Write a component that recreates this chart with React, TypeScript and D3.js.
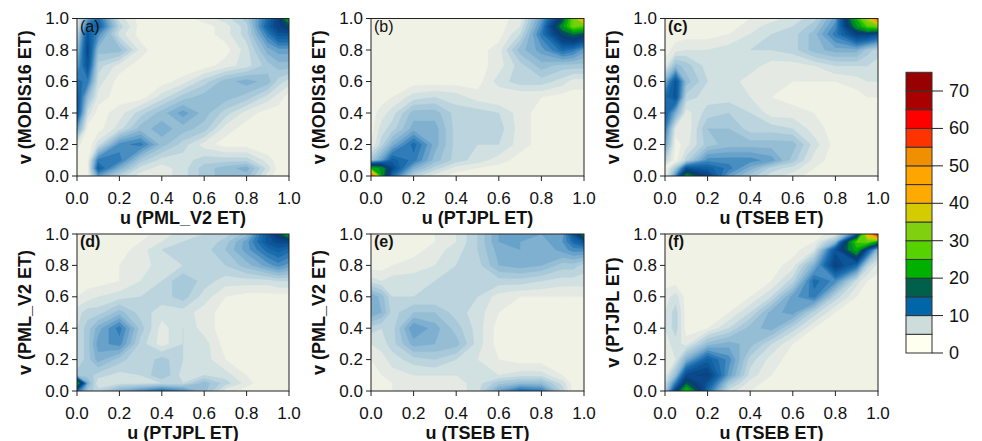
import React from "react";
import * as d3 from "d3";

// grid positions (u and v) at which the density values are given
const gridU = [0, 0.05, 0.1, 0.2, 0.3, 0.4, 0.5, 0.6, 0.7, 0.8, 0.9, 0.95, 1];

// rows listed from v = 1 (top) down to v = 0 (bottom); columns follow gridU
const densityA = [
  [3, 9, 12, 4, 2, 2, 2, 3, 4, 6, 12, 16, 24],
  [3, 12, 13, 5, 2, 2, 2, 2, 3, 5, 13, 16, 18],
  [5, 14, 10, 4, 2, 1.5, 1.5, 2, 3, 5, 11, 14, 14],
  [7, 15, 7, 7, 3, 1.5, 1.5, 1.5, 2, 4, 8, 9, 9],
  [9, 14, 5, 3, 2, 1.5, 1.5, 2, 3, 4, 6, 7, 7],
  [12, 11, 4, 2, 1.5, 2, 3, 5, 7, 8, 7, 5, 4],
  [14, 7, 3, 2, 2, 4, 6, 7, 7, 6, 4, 3, 2],
  [14, 4, 2, 3, 5, 7, 9, 7, 5, 3, 2, 2, 2],
  [9, 2, 2, 4, 7, 8, 7, 6, 3, 2, 1.5, 1.5, 1.5],
  [3, 1.5, 4, 10, 11, 7, 5, 3, 2, 2, 1.5, 1.5, 1.5],
  [1.5, 2, 11, 11, 6, 4, 4, 5, 5, 5, 3, 2, 1.5],
  [1.5, 2, 13, 8, 4, 3, 4, 6, 7, 8, 4, 2, 1.5],
  [1.5, 2, 9, 5, 3, 3, 4, 6, 7, 7, 3, 2, 1.5],
];

const densityB = [
  [1.5, 2, 1.5, 1.5, 1.5, 1.5, 2, 2, 3, 9, 18, 30, 45],
  [1.5, 2, 1.5, 1.5, 1.5, 1.5, 2, 2, 3.5, 10, 22, 30, 28],
  [1.5, 2.5, 1.5, 1.5, 1.5, 1.5, 2, 2, 4.5, 11, 18, 20, 18],
  [1.5, 2.5, 2, 1.5, 1.5, 2, 2, 3, 7, 9, 12, 11, 9],
  [1.5, 2.5, 2, 2, 2, 2, 2, 3, 5, 7, 6, 6, 6],
  [1.5, 2, 2, 2, 2, 2, 2, 4, 5, 5, 4, 3, 3],
  [1.5, 2, 2.5, 4, 4.5, 4, 3, 2.5, 2.5, 2.5, 2, 2, 2],
  [2, 3, 4, 7, 7, 5, 5, 4.5, 3, 2, 2, 2, 1.5],
  [2, 4, 5, 8, 8, 5, 5, 5, 3, 2, 1.5, 1.5, 1.5],
  [2.5, 5, 8, 12, 8, 5, 4.5, 4.5, 3, 2, 1.5, 1.5, 1.5],
  [6, 9, 13, 11, 7, 5, 4, 3, 2, 1.5, 1.5, 1.5, 1.5],
  [24, 22, 15, 8, 5, 3, 2.5, 2, 1.5, 1.5, 1.5, 1.5, 1.5],
  [60, 22, 12, 5, 3, 2, 2, 1.5, 1.5, 1.5, 1.5, 1.5, 1.5],
];

const densityC = [
  [1.5, 1.5, 1.5, 1.5, 2, 2.5, 3, 4, 5, 9, 25, 35, 55],
  [1.5, 1.5, 1.5, 1.5, 2, 3, 4, 4.5, 6, 10, 22, 28, 30],
  [1.5, 2, 2, 2, 2.5, 3.5, 4.5, 5, 7, 11, 16, 16, 14],
  [2, 3, 3.5, 3.5, 4, 4.5, 4.5, 5, 7, 8, 8, 6, 5],
  [3, 7, 6, 4, 4.5, 4, 3, 3, 3.5, 4.5, 4.5, 4.5, 4],
  [8, 14, 7, 4.5, 4, 3, 2.5, 2.5, 2.5, 2.5, 3, 3.5, 3.5],
  [12, 14, 5, 4, 4, 3.5, 2.5, 2, 2, 2, 2, 2.5, 2.5],
  [13, 8, 3, 5, 5.5, 4.5, 3, 3, 2.5, 2, 2, 2, 2],
  [11, 3, 2.5, 6.5, 6.5, 5, 5, 4.5, 3, 2, 1.5, 1.5, 1.5],
  [9, 2, 3, 6, 7, 7, 7, 7, 4, 2, 1.5, 1.5, 1.5],
  [5, 2, 5, 10, 10, 10, 9, 6, 3, 2, 1.5, 1.5, 1.5],
  [2, 6, 14, 13, 11, 8, 5, 4, 2.5, 1.5, 1.5, 1.5, 1.5],
  [1.5, 10, 22, 16, 9, 6, 4, 3, 2, 1.5, 1.5, 1.5, 1.5],
];

const densityD = [
  [1.5, 1.5, 1.5, 1.5, 2, 3, 4, 4.5, 5, 7, 14, 18, 24],
  [1.5, 1.5, 1.5, 2, 2.5, 3.5, 4.5, 4.5, 6, 9, 14, 15, 15],
  [1.5, 1.5, 1.5, 2, 3, 4.5, 5, 5, 6.5, 9, 12, 13, 12],
  [1.5, 1.5, 2, 2.5, 3, 4, 4.5, 4.5, 5.5, 7, 9, 10, 9],
  [2, 2, 2, 2.5, 3.5, 4.5, 6.5, 5, 4, 4, 4, 4.5, 4.5],
  [2.5, 3, 3.5, 4, 4.5, 5, 6, 4, 2.5, 2, 2, 2, 2],
  [4, 5, 5, 7, 5, 4, 4, 3, 2, 1.5, 1.5, 1.5, 1.5],
  [4.5, 6, 8, 11, 6, 3, 4.5, 3, 2, 1.5, 1.5, 1.5, 1.5],
  [4.5, 6, 9, 10, 5, 3, 4.5, 4, 2, 1.5, 1.5, 1.5, 1.5],
  [4.5, 6, 8, 6, 4.5, 6, 4.5, 4, 2.5, 1.5, 1.5, 1.5, 1.5],
  [6, 6, 5, 4, 4.5, 6.5, 4, 4.5, 4, 2.5, 1.5, 1.5, 1.5],
  [24, 8, 3.5, 4, 4, 4.5, 4.5, 7, 5, 3, 1.5, 1.5, 1.5],
  [12, 6, 5, 8, 10, 12, 10, 7, 3, 2, 1.5, 1.5, 1.5],
];

const densityE = [
  [1.5, 1.5, 1.5, 2, 2.5, 3.5, 5.5, 8.5, 8.5, 8.5, 9, 14, 22],
  [1.5, 1.5, 1.5, 2, 2.5, 3.5, 5.5, 8.5, 8.5, 8, 9.5, 12, 14],
  [1.5, 1.5, 2, 2, 3, 4, 5.5, 8, 8.5, 7.5, 9, 10, 10],
  [2, 2, 2.5, 3, 3.5, 4.5, 5, 7.5, 8, 7.5, 6, 6, 5],
  [4, 3.5, 4, 4, 4.5, 4.5, 5, 5, 5, 4.5, 4, 4, 4],
  [8.5, 7, 4.5, 4.5, 4.5, 4.5, 4.5, 3, 2.5, 2.5, 2.5, 2.5, 2.5],
  [8.5, 7.5, 5, 6.5, 6.5, 5, 4, 2.5, 2, 2, 2, 2, 2],
  [5, 4.5, 5, 9.5, 8, 6, 4, 2, 2, 2, 2, 2, 2],
  [3.5, 4, 5, 8, 7.5, 7, 4, 2, 2, 2, 2, 2, 2],
  [2.5, 3, 4, 5, 5.5, 4.5, 3.5, 2.5, 2, 2, 2, 2, 2],
  [2, 2.5, 3, 3.5, 3.5, 3.5, 3.5, 3.5, 4, 4, 2.5, 2, 2],
  [2, 2, 2.5, 3, 3, 3, 4, 6, 7, 7, 4, 2, 2],
  [2, 2, 2.5, 3, 3, 3, 4, 9, 12, 11, 5, 2, 2],
];

const densityF = [
  [1.5, 1.5, 1.5, 1.5, 1.5, 1.5, 1.5, 1.5, 2, 3, 12, 40, 65],
  [1.5, 1.5, 1.5, 1.5, 1.5, 1.5, 1.5, 2, 2.5, 7, 28, 30, 22],
  [1.5, 1.5, 1.5, 1.5, 1.5, 1.5, 2, 2, 3.5, 14, 24, 14, 7],
  [1.5, 1.5, 1.5, 1.5, 1.5, 1.5, 2, 3, 8, 16, 12, 5, 3],
  [2, 2, 1.5, 1.5, 1.5, 2, 2.5, 5, 12, 10, 4, 2.5, 2],
  [3, 4, 2, 2, 2, 2.5, 4.5, 9, 11, 5, 2.5, 2, 2],
  [3.5, 5, 2, 2, 2.5, 4.5, 8, 9, 5, 2.5, 2, 2, 2],
  [3.5, 5, 2, 2.5, 4.5, 7, 8, 5, 2.5, 2, 2, 2, 2],
  [3, 4, 3, 7, 8, 7, 4.5, 2.5, 2, 2, 2, 2, 2],
  [3, 3.5, 8, 13, 10, 5, 3, 2, 2, 2, 2, 2, 2],
  [3, 7, 15, 16, 9, 4, 2.5, 2, 2, 2, 2, 2, 2],
  [4, 11, 19, 14, 6, 3, 2, 2, 2, 2, 2, 2, 2],
  [5, 16, 26, 12, 4, 2.5, 2, 2, 2, 2, 2, 2, 2],
];

const panelLetters = ["(a)", "(b)", "(c)", "(d)", "(e)", "(f)"];
const letterBold = [false, false, true, true, true, true];
const xTitles = ["u (PML_V2 ET)", "u (PTJPL ET)", "u (TSEB ET)", "u (PTJPL ET)", "u (TSEB ET)", "u (TSEB ET)"];
const yTitles = ["v (MODIS16 ET)", "v (MODIS16 ET)", "v (MODIS16 ET)", "v (PML_V2 ET)", "v (PML_V2 ET)", "v (PTJPL ET)"];
const axisTicks = [0, 0.2, 0.4, 0.6, 0.8, 1.0];

const legendBreaks = [0, 5, 10, 15, 20, 25, 30, 35, 40, 45, 50, 55, 60, 65, 70, 75];
const legendColors = [
  "#FFFFF0", "#CCDDDC", "#0066A8", "#00604C", "#00B000", "#55D200", "#80D010",
  "#D4CC00", "#FFAA00", "#FFA500", "#F09000", "#FF3300", "#FF0000", "#AA0000", "#990000",
];
const legendTicks = [0, 10, 20, 30, 40, 50, 60, 70];

// continuous ramp used inside the panels
const rampValues = [0, 1.5, 2.5, 3.5, 4.5, 6, 7.5, 9, 10.5, 12, 13.5, 15, 17, 19.5, 22, 25, 28, 32, 37, 42, 50, 57, 62, 67, 75];
const rampColors = [
  "#FFFFF0", "#F5F5E8", "#EDEFE3", "#DBE5E2", "#C6DAE0", "#A8C9D9", "#8CB8D3", "#68A1CA",
  "#3A84BD", "#1A6CAD", "#0D5B9E", "#0A4A8C", "#0A3D77", "#005A50", "#009A20", "#00B400",
  "#55D000", "#80D010", "#D4CC00", "#FFAA00", "#F09000", "#FF3300", "#FF0000", "#AA0000", "#990000",
];

const densities = [densityA, densityB, densityC, densityD, densityE, densityF];
const colX = [[77, 289], [371, 584], [665, 878]];
const rowY = [[18.5, 176], [234, 391]];
const FONT = "'Liberation Sans', Arial, Helvetica, sans-serif";
const TXT = "#111";

const thresholds = [...d3.range(0.5, 20, 1), ...d3.range(20, 75.1, 2.5)];
const rampColor = d3.scaleLinear<string>().domain(rampValues).range(rampColors).interpolate(d3.interpolateRgb).clamp(true);

function Panel({ idx }: { idx: number }) {
  const col = idx % 3;
  const row = Math.floor(idx / 3);
  const [x0, x1] = colX[col];
  const [y0, y1] = rowY[row];
  const xs = d3.scaleLinear().domain([0, 1]).range([x0, x1]);
  const ys = d3.scaleLinear().domain([0, 1]).range([y1, y0]);
  const n = gridU.length;
  const idxToU = d3.scaleLinear().domain(d3.range(n)).range(gridU).clamp(true);
  const values = densities[idx].slice().reverse().flat();
  const conts = d3.contours().size([n, n]).thresholds(thresholds)(values);
  const proj = d3.geoTransform({
    point(x: number, y: number) {
      (this as any).stream.point(xs(idxToU(x - 0.5)), ys(idxToU(y - 0.5)));
    },
  });
  const path = d3.geoPath(proj as any);
  const clipId = `clip${idx}`;
  return (
    <g>
      <clipPath id={clipId}>
        <rect x={x0} y={y0} width={x1 - x0} height={y1 - y0} />
      </clipPath>
      <g clipPath={`url(#${clipId})`}>
        <rect x={x0} y={y0} width={x1 - x0} height={y1 - y0} fill={rampColor(0.5)} />
        {conts.map((c, i) => {
          const t = thresholds[i];
          const next = i + 1 < thresholds.length ? thresholds[i + 1] : t + 2.5;
          const col = rampColor((t + next) / 2);
          return <path key={i} d={path(c as any) || ""} fill={col} stroke={col} strokeWidth={0.3} />;
        })}
      </g>
      <rect x={x0} y={y0} width={x1 - x0} height={y1 - y0} fill="none" stroke="#222" strokeWidth={1} />
      {axisTicks.map((t) => (
        <g key={"x" + t}>
          <line x1={xs(t)} x2={xs(t)} y1={y1} y2={y1 + 5} stroke="#222" />
          <text x={xs(t)} y={y1 + 22} textAnchor="middle" dominantBaseline="central" fontSize={17} fontFamily={FONT} fill={TXT}>
            {t.toFixed(1)}
          </text>
        </g>
      ))}
      {axisTicks.map((t) => (
        <g key={"y" + t}>
          <line x1={x0 - 5} x2={x0} y1={ys(t)} y2={ys(t)} stroke="#222" />
          <text x={x0 - 8} y={ys(t)} textAnchor="end" dominantBaseline="central" fontSize={17} fontFamily={FONT} fill={TXT}>
            {t.toFixed(1)}
          </text>
        </g>
      ))}
      <text x={(x0 + x1) / 2} y={y1 + 41.5} textAnchor="middle" dominantBaseline="central" fontSize={18} fontWeight="bold" fontFamily={FONT} fill={TXT}>
        {xTitles[idx]}
      </text>
      <text
        transform={`translate(${x0 - 52},${(y0 + y1) / 2}) rotate(-90)`}
        textAnchor="middle"
        dominantBaseline="central"
        fontSize={18}
        fontWeight="bold"
        fontFamily={FONT}
        fill={TXT}
      >
        {yTitles[idx]}
      </text>
      <text x={x0 + 3} y={y0 + 13} fontSize={16} fontWeight={letterBold[idx] ? "bold" : "normal"} fontFamily={FONT} fill={TXT}>
        {panelLetters[idx]}
      </text>
    </g>
  );
}

function Legend() {
  const ly = d3.scaleLinear().domain([0, 70]).range([353, 91]);
  const lx0 = 906;
  const lx1 = 932;
  return (
    <g>
      {legendColors.map((c, i) => (
        <rect key={i} x={lx0} y={ly(legendBreaks[i + 1])} width={lx1 - lx0} height={ly(legendBreaks[i]) - ly(legendBreaks[i + 1])} fill={c} stroke="#333" strokeWidth={1} />
      ))}
      {legendTicks.map((t) => (
        <g key={t}>
          <line x1={lx1} x2={lx1 + 11} y1={ly(t)} y2={ly(t)} stroke="#222" />
          <text x={lx1 + 17} y={ly(t)} dominantBaseline="central" fontSize={18} fontFamily={FONT} fill={TXT}>
            {t}
          </text>
        </g>
      ))}
    </g>
  );
}

export default function App() {
  return (
    <svg width={982} height={441} style={{ position: "absolute", left: 0, top: 0, background: "#fff" }}>
      <rect x={0} y={0} width={982} height={441} fill="#fff" />
      {densities.map((_, i) => (
        <Panel key={i} idx={i} />
      ))}
      <Legend />
    </svg>
  );
}
